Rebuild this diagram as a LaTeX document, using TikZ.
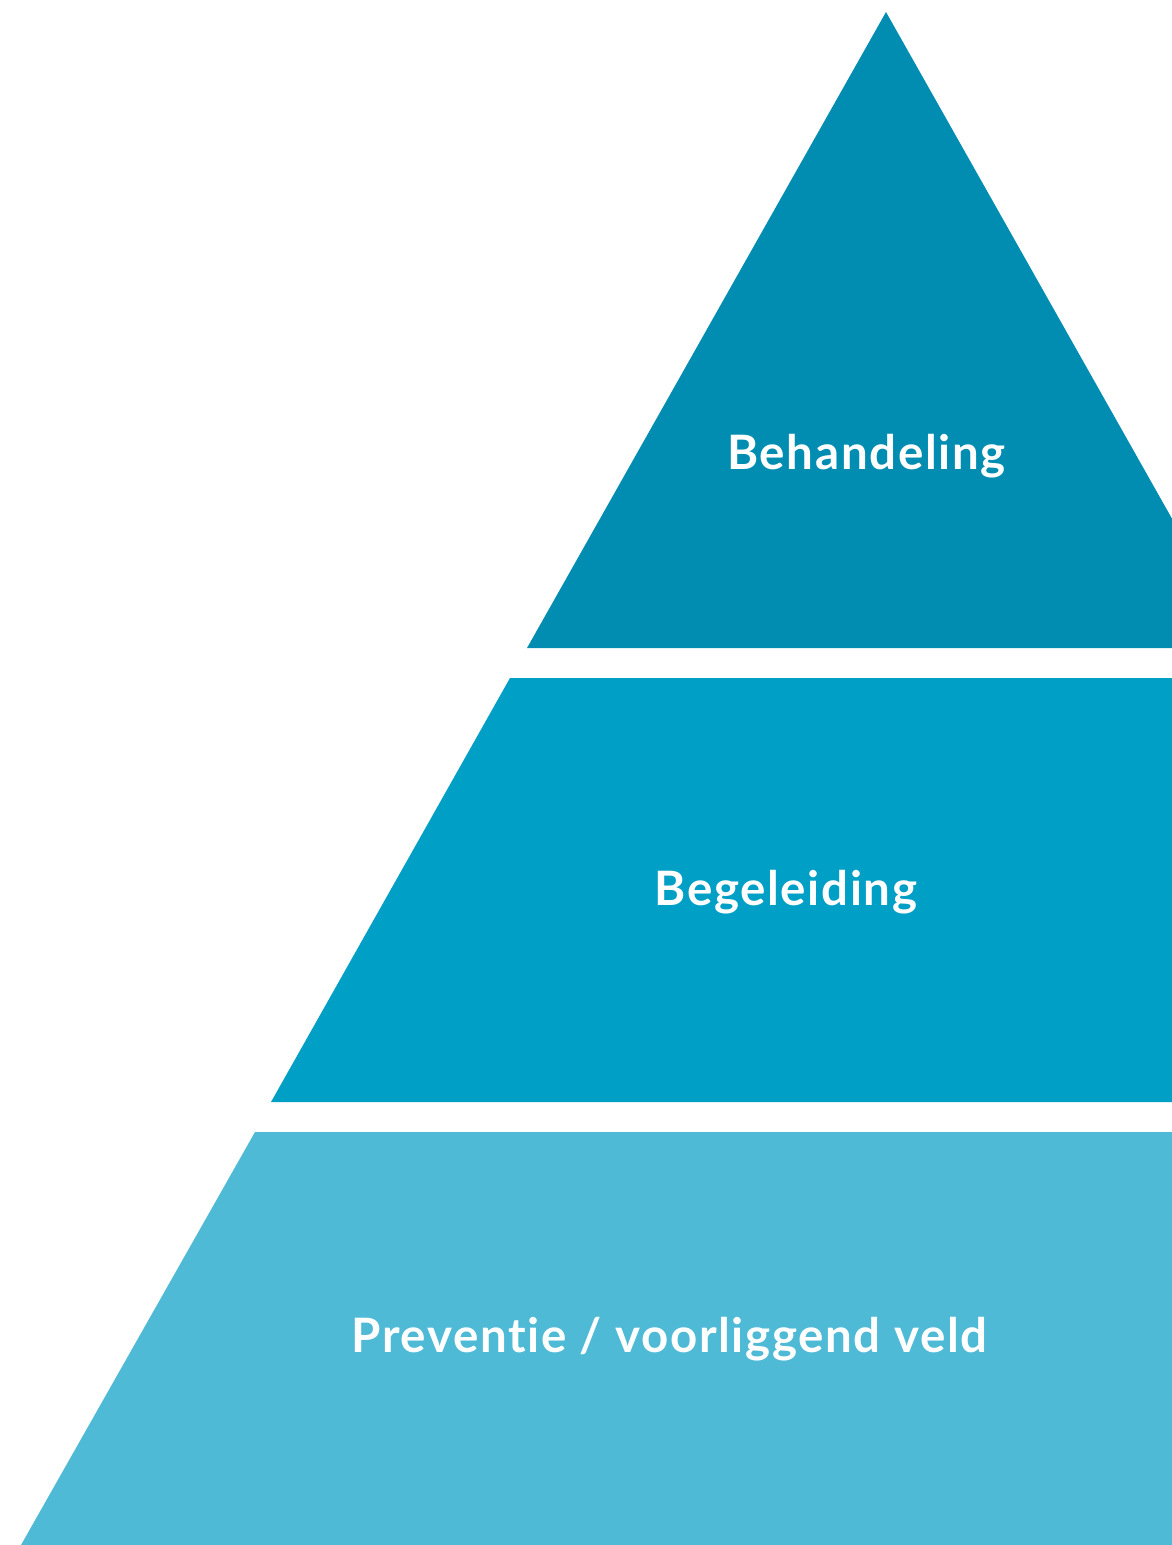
\documentclass[tikz,border=0pt]{standalone}
\usepackage{fontspec}
\setmainfont[Ligatures=NoCommon,LetterSpace=3.5]{Lato}
\usetikzlibrary{calc}
\definecolor{tier1}{RGB}{1,141,177}
\definecolor{tier2}{RGB}{0,159,198}
\definecolor{tier3}{RGB}{78,186,214}
\tikzset{tierlabel/.style={anchor=base,text=white,font=\fontsize{27}{32}\selectfont\bfseries,inner sep=0pt}}

\begin{document}
\begin{tikzpicture}[x=0.02cm,y=-0.02cm]
      \useasboundingbox (0,0) rectangle (1172,1545);
      \clip (0,0) rectangle (1172,1545);

      \coordinate (a0) at (886,12);
      \coordinate (a1) at (527,648);
      \coordinate (a2) at (1245,648);

      \fill [tier1] (a0) -- (a1) -- (a2) -- cycle;

      \coordinate (b0) at (510,678);
      \coordinate (b1) at (1262,678);
      \coordinate (b2) at (1501,1102);
      \coordinate (b3) at (271,1102);

      \fill [tier2] (b0) -- (b1) -- (b2) -- (b3) -- cycle;

      \coordinate (c0) at (255,1132);
      \coordinate (c1) at (1517,1132);
      \coordinate (c2) at (1751,1545);
      \coordinate (c3) at (21,1545);

      \fill [tier3] (c0) -- (c1) -- (c2) -- (c3) -- cycle;

      \node [tierlabel] (behandeling) at (866.5,469) {Behandeling};
      \node [tierlabel] (begeleiding) at (786,905) {Begeleiding};
      \node [tierlabel] (preventie) at (669.5,1352) {Preventie / voorliggend veld};
  \end{tikzpicture}
\end{document}
